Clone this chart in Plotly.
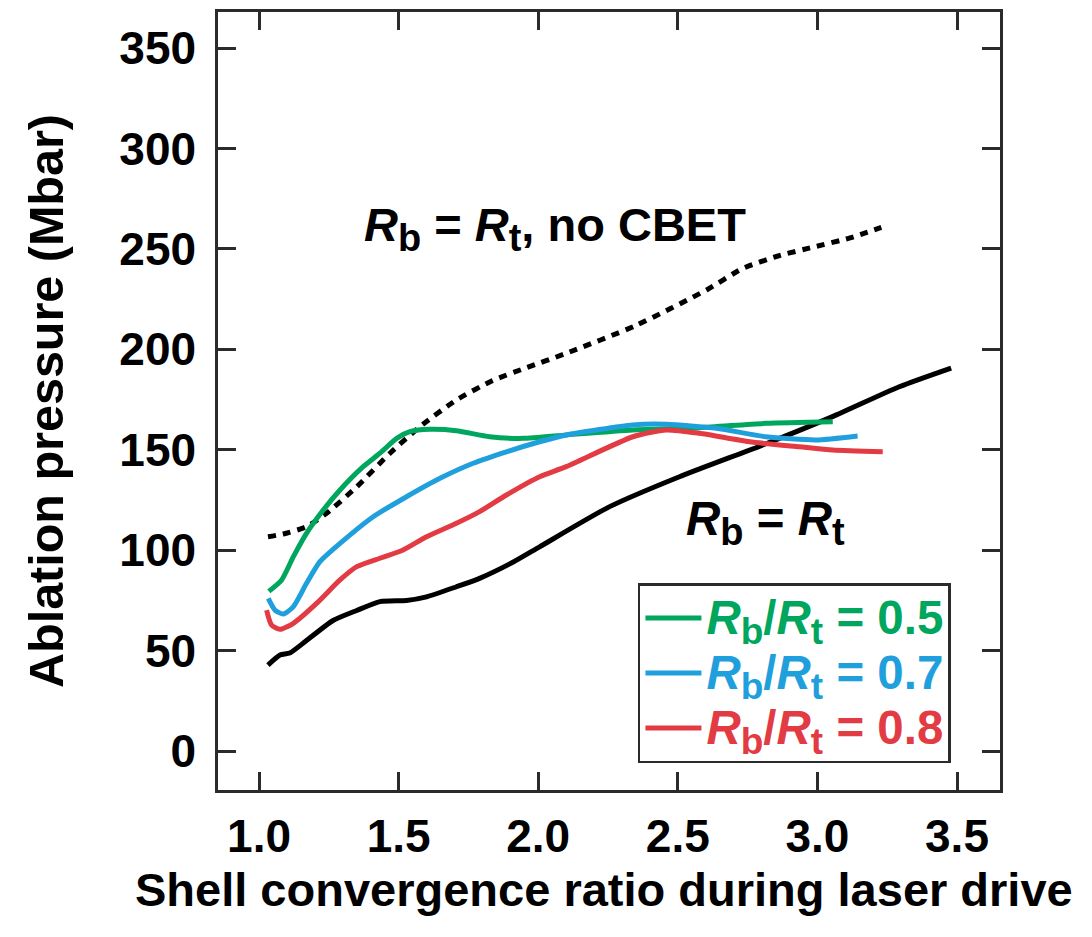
import plotly.graph_objects as go

# ---- data ----
x_nocbet = [1.032, 1.087, 1.17, 1.242, 1.35, 1.469, 1.576, 1.707, 1.837, 1.96, 2.092, 2.348, 2.603, 2.731, 2.859, 2.987, 3.114, 3.229]
y_nocbet = [106.7, 108.1, 111.7, 118.4, 131.6, 148.3, 161.5, 174.8, 184.5, 191.0, 197.6, 211.8, 229.6, 240.2, 246.5, 251.0, 255.4, 260.7]

x_equal = [1.032, 1.075, 1.11, 1.17, 1.265, 1.35, 1.433, 1.528, 1.60, 1.707, 1.79, 1.909, 2.005, 2.256, 2.506, 2.816, 3.054, 3.293, 3.479]
y_equal = [42.8, 47.8, 48.8, 55.0, 65.0, 70.0, 74.4, 75.0, 76.8, 81.8, 86.0, 94.0, 101.7, 121.7, 136.6, 153.0, 166.5, 181.4, 190.7]

x_05 = [1.035, 1.081, 1.123, 1.17, 1.23, 1.29, 1.373, 1.433, 1.493, 1.54, 1.612, 1.707, 1.826, 1.946, 2.10, 2.339, 2.578, 2.816, 3.055]
y_05 = [79.5, 85.2, 96.8, 108.4, 120.0, 130.0, 141.6, 148.3, 155.7, 159.0, 160.2, 159.5, 156.5, 155.7, 157.4, 159.9, 161.0, 163.2, 164.0]

x_07 = [1.033, 1.057, 1.087, 1.123, 1.17, 1.218, 1.29, 1.409, 1.528, 1.648, 1.767, 1.886, 2.005, 2.10, 2.339, 2.459, 2.638, 2.816, 2.995, 3.144]
y_07 = [76.0, 70.2, 68.2, 71.9, 83.5, 94.3, 103.4, 116.7, 126.6, 135.8, 143.3, 149.0, 154.0, 157.4, 162.4, 162.7, 160.7, 156.5, 154.9, 156.9]

x_08 = [1.027, 1.045, 1.075, 1.123, 1.206, 1.29, 1.35, 1.433, 1.516, 1.60, 1.707, 1.79, 1.886, 2.005, 2.10, 2.339, 2.459, 2.578, 2.757, 2.936, 3.055, 3.234]
y_08 = [70.2, 62.7, 60.6, 63.6, 73.5, 85.2, 91.8, 96.0, 100.1, 106.7, 113.4, 119.2, 127.5, 136.6, 141.6, 156.5, 159.9, 158.2, 154.0, 151.5, 149.9, 149.0]

x_ticks = [1.0, 1.5, 2.0, 2.5, 3.0, 3.5]
y_ticks = [0, 50, 100, 150, 200, 250, 300, 350]

x_title = "Shell convergence ratio during laser drive"
y_title = "Ablation pressure (Mbar)"

GREEN = "#00A65E"
BLUE = "#1FA0DD"
RED = "#E23B44"
AX = "#2b2b2b"
FONT = "Liberation Sans"


def sub(ch, px):
    return f'<sub><span style="font-size:{px}px">{ch}</span></sub>'


def lbl(color, val, px=37):
    return (f'<span style="color:{color};font-size:47.5px"><i>R</i>{sub("b", px)}/<i>R</i>{sub("t", px)} = {val}</span>')


fig = go.Figure()
fig.add_trace(go.Scatter(x=x_nocbet, y=y_nocbet, mode="lines", showlegend=False,
                         line=dict(color="black", width=5, dash="8px,7px", shape="spline", smoothing=0.6)))
fig.add_trace(go.Scatter(x=x_equal, y=y_equal, mode="lines", showlegend=False,
                         line=dict(color="black", width=5, shape="spline", smoothing=0.6)))
fig.add_trace(go.Scatter(x=x_05, y=y_05, mode="lines", name=lbl(GREEN, "0.5"),
                         line=dict(color=GREEN, width=5, shape="spline", smoothing=0.6)))
fig.add_trace(go.Scatter(x=x_07, y=y_07, mode="lines", name=lbl(BLUE, "0.7"),
                         line=dict(color=BLUE, width=5, shape="spline", smoothing=0.6)))
fig.add_trace(go.Scatter(x=x_08, y=y_08, mode="lines", name=lbl(RED, "0.8"),
                         line=dict(color=RED, width=5, shape="spline", smoothing=0.6)))

fig.add_annotation(x=1.368, y=260, xref="x", yref="y", xanchor="left", yanchor="middle",
                   text=f"<i>R</i>{sub('b', 38)} = <i>R</i>{sub('t', 38)}, no CBET", showarrow=False,
                   font=dict(family=FONT, size=47, color="black", weight="bold"))
fig.add_annotation(x=2.522, y=114, xref="x", yref="y", xanchor="left", yanchor="middle",
                   text=f"<i>R</i>{sub('b', 38)} = <i>R</i>{sub('t', 38)}", showarrow=False,
                   font=dict(family=FONT, size=47.5, color="black", weight="bold"))
# x-axis title placed as a paper annotation for exact vertical position
fig.add_annotation(x=0.4936, y=-0.1285, xref="paper", yref="paper", xanchor="center", yanchor="middle",
                   text=x_title, showarrow=False,
                   font=dict(family=FONT, size=47, color="black", weight="bold"))

axis_common = dict(showline=True, linecolor=AX, linewidth=2.5, mirror="ticks", ticks="inside",
                   ticklen=18, tickwidth=2.5, tickcolor=AX, showgrid=False, zeroline=False,
                   tickfont=dict(family=FONT, size=46, color="black", weight="bold"))

fig.update_xaxes(range=[0.853, 3.654], tickvals=x_ticks, ticktext=[f"{v:.1f}" for v in x_ticks],
                 ticklabelstandoff=4, **axis_common)
fig.update_yaxes(range=[-19.4, 368], tickvals=y_ticks, ticktext=[str(v) for v in y_ticks],
                 title=dict(text=y_title, standoff=41,
                            font=dict(family=FONT, size=48.5, color="black", weight="bold")),
                 ticklabelstandoff=10, **axis_common)

fig.update_layout(
    width=1092, height=937,
    margin=dict(l=218, r=92, t=12, b=147, autoexpand=False),
    plot_bgcolor="white", paper_bgcolor="white",
    font=dict(family=FONT, size=46, color="black", weight="bold"),
    legend=dict(x=0.537, y=0.266, xanchor="left", yanchor="top",
                bordercolor=AX, borderwidth=2.5, bgcolor="white",
                font=dict(family=FONT, size=40, weight="bold"),
                itemwidth=56, tracegroupgap=0),
)

fig.write_html("out.html")
